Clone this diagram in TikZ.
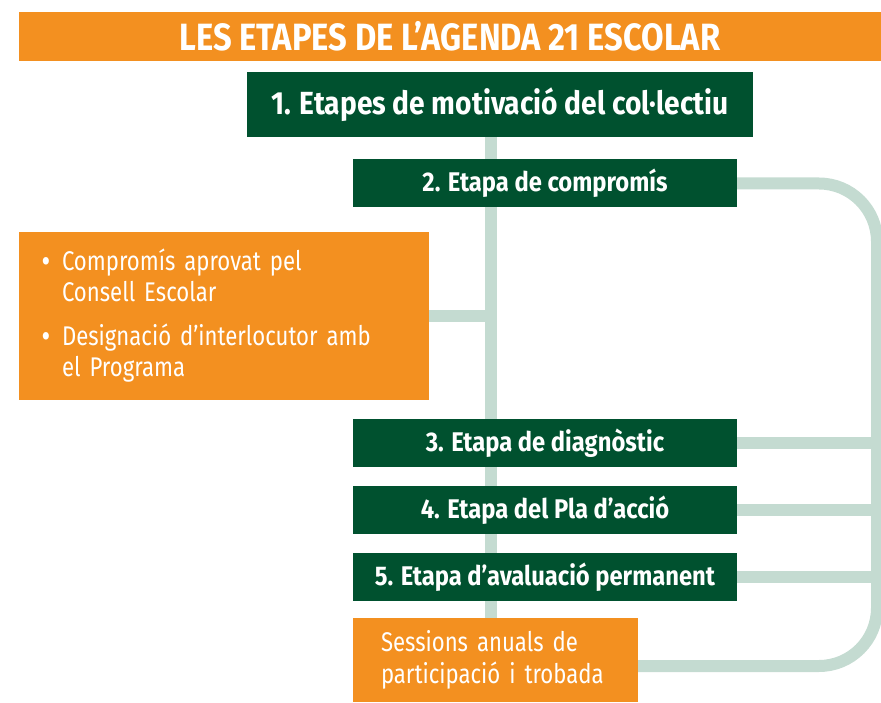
\documentclass[tikz,border=0pt]{standalone}
\usepackage{fontspec}
\setmainfont{Fira Sans}
\newfontfamily\headfont[FakeStretch=0.86]{Fira Sans}
\newfontfamily\stagefont[FakeStretch=0.88]{Fira Sans}
\newfontfamily\notefont[FakeStretch=0.82, WordSpace=0.75]{Fira Sans}
\usetikzlibrary{backgrounds}
\definecolor{agorange}{HTML}{F39020}
\definecolor{aggreen}{HTML}{00512F}
\definecolor{agline}{HTML}{C4DBD1}
\tikzstyle{heading} = [rectangle, 
minimum width=862pt, 
minimum height=49pt, 
inner sep=0pt, 
fill=agorange, 
text=white, 
font=\headfont\bfseries\fontsize{38}{42}\selectfont]
\tikzstyle{stage} = [rectangle, 
minimum width=384pt, 
minimum height=48pt, 
inner sep=0pt, 
text centered, 
fill=aggreen, 
text=white, 
font=\stagefont\bfseries\fontsize{27}{30}\selectfont]
\tikzstyle{note} = [rectangle, 
inner sep=0pt, 
align=left, 
fill=agorange, 
text=white, 
font=\notefont\fontsize{27}{31}\selectfont]
\tikzstyle{link} = [line width=12pt, draw=agline]
\newcommand{\bul}{\makebox[20pt][l]{\bfseries •}}

\begin{document}
\begin{tikzpicture}[x=1pt, y=-1pt, node distance=67pt]
\useasboundingbox (0,0) rectangle (881,703);

\node (title) [heading] at (450,36.5) {LES ETAPES DE L’AGENDA 21 ESCOLAR};
\node (s1) [stage, minimum width=506pt, minimum height=65pt, font=\stagefont\bfseries\fontsize{32}{36}\selectfont] at (500,104.5) {1. Etapes de motivació del col·lectiu};
\node (s2) [stage] at (545,183.5) {2. Etapa de compromís};
\node (tasks) [note, text width=364pt, minimum width=410pt, minimum height=168pt] at (224,316) {\bul Compromís aprovat pel\\
\hspace*{20pt}Consell Escolar\\[13pt]
\bul Designació d’interlocutor amb\\
\hspace*{20pt}el Programa};
\node (s3) [stage] at (545,443) {3. Etapa de diagnòstic};
\node (s4) [stage, below of=s3] {4. Etapa del Pla d’acció};
\node (s5) [stage, below of=s4] {5. Etapa d’avaluació permanent};
\node (sessions) [note, text width=229pt, minimum width=285pt, minimum height=84pt, font=\notefont\fontsize{27}{32}\selectfont] at (495.5,660) {Sessions anuals de\\
participació i trobada};

\coordinate (sp) at (491,0);
\coordinate (rt) at (877,0);
\coordinate (back) at ([yshift=-6pt]sessions.east);

\begin{scope}[on background layer]
\draw [link] (s1.south -| sp) -- (sessions.north -| sp);
\draw [link] (tasks.east) -- (tasks.east -| sp);
\draw [link, rounded corners=58pt] (s2.east) -| (rt |- back) -- (back);
\draw [link] (s3.east) -- (s3.east -| rt);
\draw [link] (s4.east) -- (s4.east -| rt);
\draw [link] (s5.east) -- (s5.east -| rt);
\end{scope}
\end{tikzpicture}
\end{document}
